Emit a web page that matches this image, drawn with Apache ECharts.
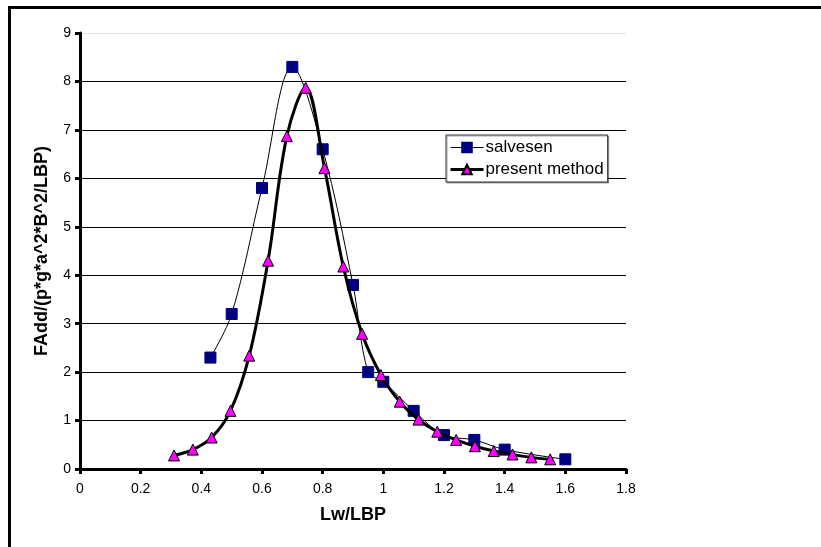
<!DOCTYPE html>
<html>
<head>
<meta charset="utf-8">
<script src="https://cdn.jsdelivr.net/npm/echarts@6/dist/echarts.min.js"></script>
<style>
html,body{margin:0;padding:0;background:#fff;}
#chart{width:821px;height:547px;}
</style>
</head>
<body>
<div id="chart"></div>
<script>
const salvesenX = [0.43, 0.5, 0.6, 0.7, 0.8, 0.9, 0.95, 1.0, 1.1, 1.2, 1.3, 1.4, 1.6];
const salvesenY = [2.3, 3.2, 5.8, 8.3, 6.6, 3.8, 2.0, 1.8, 1.2, 0.7, 0.6, 0.4, 0.2];
const presentX = [0.31, 0.372, 0.434, 0.496, 0.558, 0.62, 0.682, 0.744, 0.806, 0.868, 0.93, 0.992, 1.054, 1.116, 1.178, 1.24, 1.302, 1.364, 1.426, 1.488, 1.55];
const presentY = [0.28, 0.4, 0.65, 1.2, 2.34, 4.3, 6.87, 7.87, 6.21, 4.18, 2.79, 1.94, 1.39, 1.02, 0.77, 0.6, 0.47, 0.37, 0.3, 0.24, 0.2];
const seriesNames = ['salvesen', 'present method'];
const xTitle = 'Lw/LBP';
const yTitle = 'FAdd/(p*g*a^2*B^2/LBP)';

const FONT = '"Liberation Sans", Arial, sans-serif';
const chart = echarts.init(document.getElementById('chart'), null, {renderer: 'canvas'});
const pairs = (xs, ys) => xs.map((x, i) => [x, ys[i]]);

chart.setOption({
  animation: false,
  backgroundColor: '#fff',
  textStyle: {fontFamily: FONT, color: '#000'},
  grid: {left: 80, right: 195, top: 33, bottom: 78, containLabel: false},
  graphic: [
    {type: 'line', shape: {x1: 8, y1: 7.5, x2: 821, y2: 7.5}, style: {stroke: '#000', lineWidth: 3}, silent: true},
    {type: 'line', shape: {x1: 9.5, y1: 6, x2: 9.5, y2: 547}, style: {stroke: '#000', lineWidth: 3}, silent: true}
  ],
  legend: {
    orient: 'vertical',
    left: 446,
    top: 135,
    data: [
      {name: seriesNames[0], lineStyle: {width: 1, color: '#000'}},
      {name: seriesNames[1], lineStyle: {width: 3, color: '#000'}}
    ],
    backgroundColor: '#fff',
    borderColor: '#333',
    borderWidth: 1,
    padding: [4, 4, 4, 3],
    itemGap: 5,
    itemWidth: 33,
    itemHeight: 12,
    shadowColor: 'rgba(0,0,0,0.35)',
    shadowOffsetX: 1,
    shadowOffsetY: 1,
    textStyle: {fontFamily: FONT, fontSize: 17, color: '#000', padding: [0, 0, 0, -3]}
  },
  xAxis: {
    type: 'value',
    min: 0, max: 1.8, interval: 0.2,
    name: xTitle,
    nameLocation: 'middle',
    nameGap: 37,
    nameTextStyle: {fontFamily: FONT, fontSize: 18, fontWeight: 'bold', color: '#000'},
    axisLine: {show: true, onZero: false, lineStyle: {color: '#000', width: 3}},
    axisTick: {show: true, length: 5, lineStyle: {color: '#000', width: 3}},
    axisLabel: {fontFamily: FONT, fontSize: 14, color: '#000', margin: 13},
    splitLine: {show: false}
  },
  yAxis: {
    type: 'value',
    min: 0, max: 9, interval: 1,
    name: yTitle,
    nameLocation: 'middle',
    nameGap: 29,
    nameRotate: 90,
    nameTextStyle: {fontFamily: FONT, fontSize: 18, fontWeight: 'bold', color: '#000'},
    axisLine: {show: true, onZero: false, lineStyle: {color: '#000', width: 3}},
    axisTick: {show: true, length: 5, lineStyle: {color: '#000', width: 3}},
    axisLabel: {fontFamily: FONT, fontSize: 14, color: '#000', margin: 9},
    splitLine: {show: true, lineStyle: {color: ['#000','#000','#000','#000','#000','#000','#000','#000','#000','#e4e4e4'], width: 1}}
  },
  series: [
    {
      name: seriesNames[0],
      type: 'line',
      data: pairs(salvesenX, salvesenY),
      smooth: 0.35,
      symbol: 'rect',
      symbolSize: 11,
      lineStyle: {color: '#000', width: 1},
      itemStyle: {color: '#000080', borderColor: '#000080', borderWidth: 1},
      z: 2
    },
    {
      name: seriesNames[1],
      type: 'line',
      data: pairs(presentX, presentY),
      smooth: 0.35,
      symbol: 'triangle',
      symbolSize: 11,
      lineStyle: {color: '#000', width: 3},
      itemStyle: {color: '#ff00ff', borderColor: '#000', borderWidth: 1},
      z: 3
    }
  ]
});
</script>
</body>
</html>
